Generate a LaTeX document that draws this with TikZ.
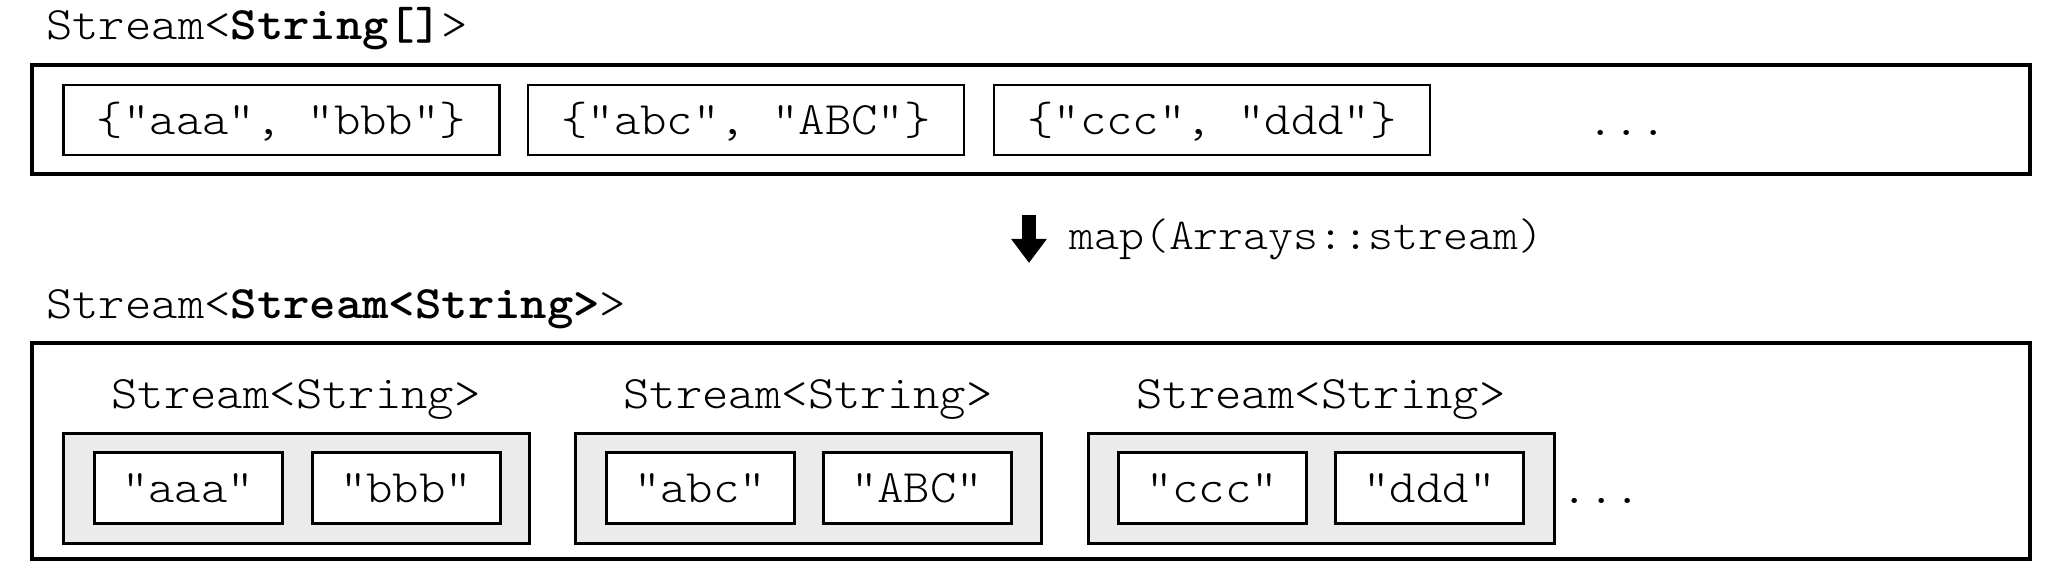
\documentclass[tikz,border=0pt]{standalone}
\usepackage{fontspec}
\setmonofont{lmmonolt10-regular.otf}[BoldFont=lmmonolt10-bold.otf, FakeStretch=1.08]
\usetikzlibrary{arrows.meta}
\tikzset{
  txt/.style={font=\ttfamily\fontsize{46.5}{56}\selectfont, inner sep=0pt},
  outerbox/.style={draw, line width=4pt, minimum width=1998pt, inner sep=0pt},
  arrbox/.style={txt, draw, line width=2.8pt, minimum width=436pt, minimum height=70pt, text height=36pt, text depth=6pt},
  graybox/.style={draw, fill=black!8, line width=3pt, minimum width=466pt, minimum height=110pt, inner sep=0pt},
  strbox/.style={txt, draw, fill=white, line width=3pt, minimum width=188pt, minimum height=71pt, text height=36pt, text depth=6pt},
  lbl/.style={txt, anchor=base},
  ttl/.style={txt, anchor=base west},
}
\begin{document}
\begin{tikzpicture}[x=1pt,y=-1pt]
\useasboundingbox (0,0) rectangle (2048,585);
% top row
\node[ttl] (t1) at (46,40) {Stream<\textbf{String[]}>};
\node[outerbox, minimum height=109pt] (top) at (1031,119.5) {};
\node[arrbox] (a1) at (281.5,120) {\{"aaa", "bbb"\}};
\node[arrbox] (a2) at (746,120) {\{"abc", "ABC"\}};
\node[arrbox] (a3) at (1212,120) {\{"ccc", "ddd"\}};
\node[lbl] (d1) at (1627,136) {...};
% arrow
\coordinate (p1) at (1029,215);
\coordinate (p2) at (1029,263);
\draw[line width=14pt, -{Triangle[width=34pt,length=24pt]}] (p1) -- (p2);
\node[ttl, font=\ttfamily\fontsize{44}{52}\selectfont] (map) at (1069,250) {map(Arrays::stream)};
% bottom row
\node[ttl] (t2) at (46,319) {Stream<\textbf{Stream<String>}>};
\node[outerbox, minimum height=216pt] (bot) at (1031,451) {};
\node[lbl] (l1) at (296,408) {Stream<String>};
\node[lbl] (l2) at (808,408) {Stream<String>};
\node[lbl] (l3) at (1321,408) {Stream<String>};
\node[graybox] (g1) at (296,488) {};
\node[graybox] (g2) at (808,488) {};
\node[graybox] (g3) at (1321,488) {};
\node[strbox] (s1) at (188,487.5) {"aaa"};
\node[strbox] (s2) at (406,487.5) {"bbb"};
\node[strbox] (s3) at (700,487.5) {"abc"};
\node[strbox] (s4) at (917,487.5) {"ABC"};
\node[strbox] (s5) at (1212,487.5) {"ccc"};
\node[strbox] (s6) at (1429.5,487.5) {"ddd"};
\node[lbl] (d2) at (1601.5,503) {...};
\end{tikzpicture}
\end{document}
